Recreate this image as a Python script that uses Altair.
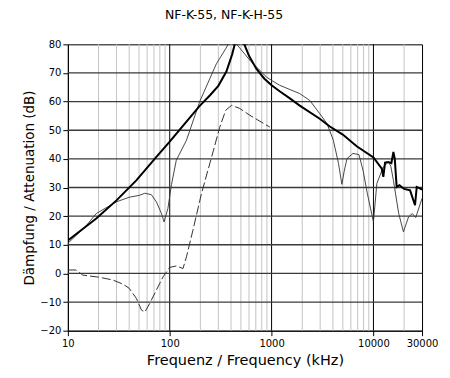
import altair as alt
import pandas as pd

# ---- data ----
thick_f = [10, 19, 30, 47, 74, 100, 146, 197, 250, 300, 360, 410, 435, 480, 540, 600, 708, 850, 1000, 1200, 1500, 1890, 2970, 3700, 5000, 6850, 10000, 12080, 12500, 13000, 14000, 15000, 15700, 16200, 16900, 18000, 20000, 22900, 25600, 26600, 30000]
thick_v = [11.5, 19.2, 25.5, 32.5, 40.7, 46.0, 53.0, 58.5, 62.3, 65.5, 70.5, 76.5, 80.0, 83.0, 80.0, 76.0, 71.5, 68.0, 65.7, 63.6, 61.2, 58.6, 54.0, 51.4, 48.5, 44.4, 40.5, 36.6, 33.7, 38.7, 38.9, 38.5, 42.4, 40.0, 30.2, 30.8, 29.5, 29.0, 23.8, 30.2, 29.3]

thin_f = [10, 15, 19, 30, 40, 50.8, 57, 66, 74, 83, 88, 96, 104, 116, 146, 197, 287, 355, 400, 425, 455, 613, 890, 1000, 1200, 1890, 2370, 2970, 3500, 4040, 4540, 4900, 5150, 5500, 6300, 7200, 7900, 8700, 10000, 10800, 12500, 14000, 14800, 15700, 17700, 19700, 22100, 24100, 26000, 30000]
thin_v = [10.5, 16.5, 20.9, 25.0, 26.6, 27.3, 28.0, 27.5, 25.0, 20.9, 18.0, 22.7, 31.0, 39.5, 46.5, 60.0, 73.2, 78.5, 82.0, 82.5, 80.0, 74.4, 68.6, 67.4, 65.7, 62.8, 60.4, 55.8, 52.3, 46.5, 38.4, 31.1, 35.5, 40.1, 41.9, 41.5, 36.0, 28.0, 18.0, 31.4, 37.2, 38.9, 37.5, 32.5, 20.9, 14.5, 19.7, 20.9, 19.5, 26.2]

dash_f = [10, 12, 14, 20, 27.7, 35, 40, 47, 52.8, 57, 63.6, 74, 86, 100, 116, 135, 146, 169, 205, 258, 310, 355, 405, 487, 613, 960]
dash_v = [1.2, 1.2, -0.6, -1.3, -2.3, -3.8, -5.2, -8.7, -12.8, -13.5, -10.5, -5.8, -1.2, 2.1, 2.6, 1.7, 5.8, 15.1, 27.9, 40.7, 51.1, 57.0, 58.7, 57.6, 55.2, 51.1]

x_ticks = [10, 100, 1000, 10000, 30000]
y_ticks = [-20, -10, 0, 10, 20, 30, 40, 50, 60, 70, 80]
minor_grid = [20, 30, 40, 50, 60, 70, 80, 90, 200, 300, 400, 500, 600, 700, 800, 900,
              2000, 3000, 4000, 5000, 6000, 7000, 8000, 9000, 20000]
major_grid = [100, 1000, 10000]
h_grid = [-10, 0, 10, 20, 30, 40, 50, 60, 70]

FONT = "DejaVu Sans"
XTITLE = "Frequenz / Frequency (kHz)"
YTITLE = "Dämpfung / Attenuation (dB)"

xscale = alt.Scale(type="log", domain=[10, 30000], nice=False)
yscale = alt.Scale(domain=[-20, 80], nice=False, zero=False)
common = dict(grid=False, tickSize=5, domainColor="#000000", tickColor="#000000",
              labelColor="#000000", titleColor="#000000", labelFont=FONT, titleFont=FONT,
              labelFontSize=10, titleFontWeight="normal")
xax = alt.Axis(values=x_ticks, format="d", labelFlush=False, labelOverlap=False,
               labelPadding=3, titlePadding=5, titleFontSize=14.5, **common)
yax = alt.Axis(values=y_ticks, labelPadding=2, titlePadding=3, titleFontSize=13.5, **common)

def X():
    return alt.X("f:Q", scale=xscale, axis=xax, title=XTITLE)

def Y():
    return alt.Y("v:Q", scale=yscale, axis=yax, title=YTITLE)

minor = alt.Chart(pd.DataFrame({"f": minor_grid})).mark_rule(color="#c4c4c4", strokeWidth=1).encode(x=X())
major = alt.Chart(pd.DataFrame({"f": major_grid})).mark_rule(color="#000000", strokeWidth=1).encode(x=X())
hgrid = alt.Chart(pd.DataFrame({"v": h_grid})).mark_rule(color="#3a3a3a", strokeWidth=1.3).encode(y=Y())

def line(fs, vs, **kw):
    return alt.Chart(pd.DataFrame({"f": fs, "v": vs})).mark_line(clip=True, **kw).encode(x=X(), y=Y())

thin = line(thin_f, thin_v, color="#333333", strokeWidth=0.9)
dashed = line(dash_f, dash_v, color="#333333", strokeWidth=1, strokeDash=[9, 3])
thick = line(thick_f, thick_v, color="#000000", strokeWidth=2)

chart = alt.layer(minor, major, hgrid, dashed, thin, thick).properties(
    width=355, height=287,
    background="#ffffff",
    title=alt.TitleParams("NF-K-55, NF-K-H-55", font=FONT, fontSize=12.5, fontWeight="normal",
                          anchor="middle", frame="group", dx=-21, offset=18, color="#000000"),
    autosize=alt.AutoSizeParams(type="none"),
    padding={"left": 60, "top": 36, "right": 20, "bottom": 40},
).configure_view(stroke="#000000", strokeWidth=1)

chart.save("out.html", embed_options={"renderer": "svg", "actions": False})
